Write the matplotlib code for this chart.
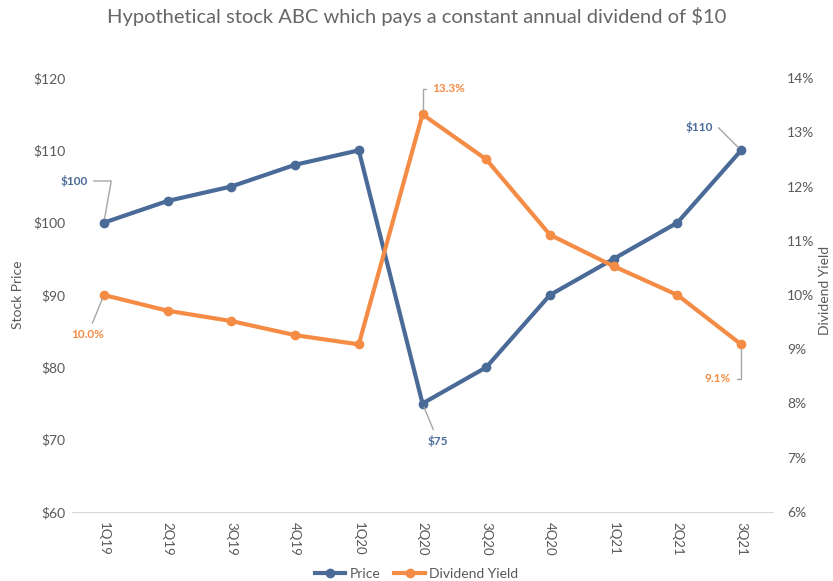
import matplotlib
matplotlib.use("Agg")
import matplotlib.pyplot as plt
from matplotlib.ticker import FuncFormatter

quarters = ["1Q19", "2Q19", "3Q19", "4Q19", "1Q20", "2Q20", "3Q20", "4Q20", "1Q21", "2Q21", "3Q21"]
price = [100, 103, 105, 108, 110, 75, 80, 90, 95, 100, 110]
div_yield = [10.0, 9.71, 9.52, 9.26, 9.09, 13.33, 12.5, 11.11, 10.53, 10.0, 9.09]
price_ticks = [60, 70, 80, 90, 100, 110, 120]
yield_ticks = [6, 7, 8, 9, 10, 11, 12, 13, 14]

BLUE = "#4A6A98"
ORANGE = "#F58C45"
GRAY = "#595959"
LEAD = "#A6A6A6"

plt.rcParams['font.family'] = ['Lato', 'DejaVu Sans']

fig = plt.figure(figsize=(8.33, 5.81), dpi=100)
ax = fig.add_axes([72/833, 1-512/581, (773-72)/833, (512-78)/581])
ax2 = ax.twinx()

x = list(range(len(quarters)))
ax.plot(x, price, color=BLUE, lw=3, marker='o', ms=6, label="Price", zorder=3)
ax2.plot(x, div_yield, color=ORANGE, lw=3, marker='o', ms=6, label="Dividend Yield", zorder=3)

ax.set_xlim(-0.5, len(quarters)-0.5)
ax.set_ylim(60, 120)
ax2.set_ylim(6, 14)
ax.set_yticks(price_ticks)
ax2.set_yticks(yield_ticks)
ax.yaxis.set_major_formatter(FuncFormatter(lambda v, p: f"${v:.0f}"))
ax2.yaxis.set_major_formatter(FuncFormatter(lambda v, p: f"{v:.0f}%"))
ax.set_xticks(x)
ax.set_xticklabels(quarters, rotation=-90, color=GRAY, fontsize=9.5)

for a in (ax, ax2):
    for s in a.spines.values():
        s.set_visible(False)
    a.tick_params(length=0, colors=GRAY, labelsize=10)
ax.spines['bottom'].set_visible(True)
ax.spines['bottom'].set_color("#D9D9D9")
ax.tick_params(axis='y', pad=5)
ax2.tick_params(axis='y', pad=10)
ax.tick_params(axis='x', pad=7, labelsize=9.5)

ax.set_ylabel("Stock Price", color=GRAY, fontsize=10)
ax2.set_ylabel("Dividend Yield", color=GRAY, fontsize=10)
ax.yaxis.set_label_coords((18-72)/701, 0.5)
ax2.yaxis.set_label_coords((825-72)/701, 0.51)
ax.yaxis.label.set_va('center')
ax2.yaxis.label.set_va('center')

fig.suptitle("Hypothetical stock ABC which pays a constant annual dividend of $10",
             x=0.5, y=0.988, fontsize=14.5, color="#666666")

def ann(axis, xi, yi, text, color, tx, ty, elbow, ha):
    axis.annotate(text, xy=(xi, yi), xytext=(tx, ty), textcoords='figure pixels',
                  color=color, fontsize=8.5, fontweight='bold', ha=ha, va='center',
                  arrowprops=dict(arrowstyle='-', color=LEAD, lw=1,
                                  shrinkA=2, shrinkB=3, connectionstyle=elbow))

ann(ax, 0, price[0], "$100", BLUE, 88, 581-181, "angle,angleA=0,angleB=80,rad=0", 'right')
ann(ax, 10, price[10], "$110", BLUE, 713, 581-127, "angle,angleA=0,angleB=135,rad=0", 'right')
ann(ax, 5, price[5], "$75", BLUE, 438, 581-441, "arc3", 'center')
ann(ax2, 5, div_yield[5], "13.3%", ORANGE, 432, 581-89, "angle,angleA=180,angleB=90,rad=0", 'left')
ann(ax2, 0, div_yield[0], "10.0%", ORANGE, 88, 581-334, "arc3", 'center')
ann(ax2, 10, div_yield[10], "9.1%", ORANGE, 731, 581-379, "angle,angleA=0,angleB=90,rad=0", 'right')

h1, l1 = ax.get_legend_handles_labels()
h2, l2 = ax2.get_legend_handles_labels()
leg = fig.legend(h1 + h2, l1 + l2, loc='center', bbox_to_anchor=(0.5, 1-574/581), ncol=2,
                 frameon=False, fontsize=10, handlelength=2.2, columnspacing=1.0, handletextpad=0.3,
                 borderpad=0)
for t in leg.get_texts():
    t.set_color(GRAY)

fig.savefig("out.png", dpi=100)
